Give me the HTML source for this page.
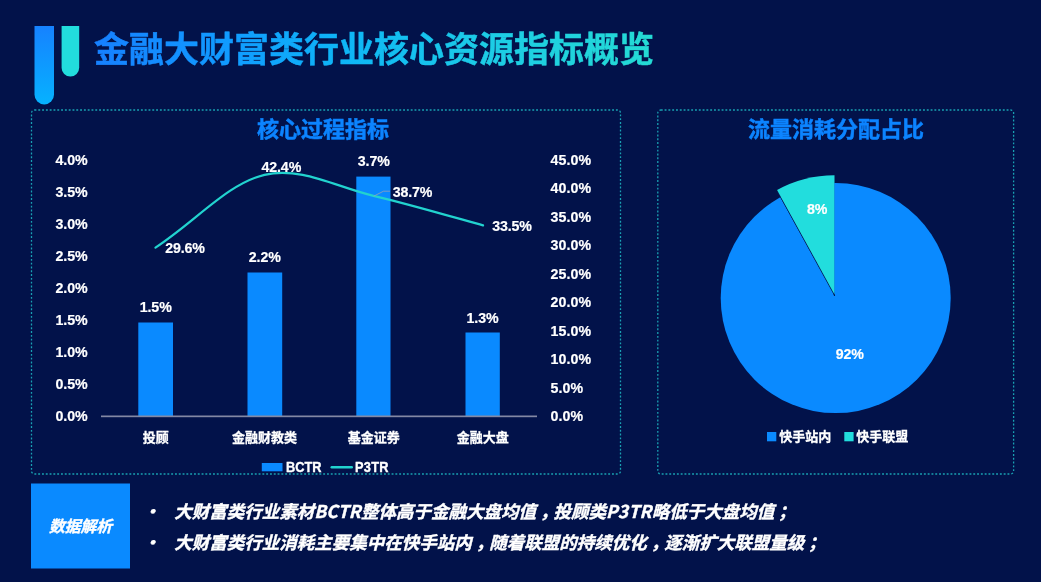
<!DOCTYPE html>
<html lang="zh-CN">
<head>
<meta charset="utf-8">
<title>金融大财富类行业核心资源指标概览</title>
<style>
html,body{margin:0;padding:0;}
body{width:1041px;height:582px;overflow:hidden;background:#02124A;position:relative;
  font-family:"Liberation Sans","Noto Sans CJK SC",sans-serif;color:#fff;}
.abs{position:absolute;white-space:nowrap;}
.cjk{font-family:"Noto Sans CJK SC","Liberation Sans",sans-serif;font-weight:bold;}
.num{font-family:"Liberation Sans",sans-serif;font-weight:bold;font-size:14.2px;line-height:16px;height:16px;letter-spacing:-0.1px;-webkit-text-stroke:0.2px #fff;}
.title{font-family:"Noto Sans CJK SC","Liberation Sans",sans-serif;font-weight:bold;font-size:35px;}
.ptitle{font-size:22px;line-height:30px;height:30px;color:#0C84FF;text-align:center;-webkit-text-stroke:0.5px #0C84FF;}
.cat{font-size:13px;line-height:18px;height:18px;text-align:center;width:100px;-webkit-text-stroke:0.3px #fff;}
.lg{font-size:13px;line-height:18px;-webkit-text-stroke:0.3px #fff;}
.ctr{text-align:center;width:60px;}
.bul{font-size:17.5px;line-height:24px;height:24px;font-style:italic;-webkit-text-stroke:0.4px #fff;}
.bul i{font-style:inherit;letter-spacing:0.2px;}
.bul b{font-weight:inherit;position:relative;left:4px;}
svg{position:absolute;left:0;top:0;}
</style>
</head>
<body>
<svg width="1041" height="582" viewBox="0 0 1041 582">
  <defs>
    <linearGradient id="gt" gradientUnits="userSpaceOnUse" x1="95" y1="0" x2="652" y2="0">
      <stop offset="0" stop-color="#1680FF"/>
      <stop offset="0.25" stop-color="#109CFF"/>
      <stop offset="0.45" stop-color="#0EB6F6"/>
      <stop offset="0.7" stop-color="#1CCCE6"/>
      <stop offset="1" stop-color="#24DAD4"/>
    </linearGradient>
    <linearGradient id="g1" x1="0" y1="0" x2="0" y2="1">
      <stop offset="0" stop-color="#1682FF"/>
      <stop offset="1" stop-color="#06B2FF"/>
    </linearGradient>
  </defs>
  <path d="M34.5,26 H54 V94.7 A9.75,9.75 0 0 1 34.5,94.7 Z" fill="url(#g1)"/>
  <path d="M61.6,26 H79.2 V67.7 A8.8,8.8 0 0 1 61.6,67.7 Z" fill="#22DDDD"/>
  <rect x="31.5" y="110" width="589" height="364" rx="3" fill="none" stroke="#1FC4CC" stroke-opacity="0.8" stroke-width="1.3" stroke-dasharray="1.9 1.9"/>
  <rect x="657.8" y="110" width="355.8" height="364" rx="3" fill="none" stroke="#1FC4CC" stroke-opacity="0.8" stroke-width="1.3" stroke-dasharray="1.9 1.9"/>
  <rect x="138.3" y="322.5" width="34.7" height="93.5" fill="#0A8AFF"/>
  <rect x="247.5" y="272.5" width="34.7" height="143.5" fill="#0A8AFF"/>
  <rect x="356.3" y="176.6" width="34.2" height="239.4" fill="#0A8AFF"/>
  <rect x="465.5" y="332.5" width="34.3" height="83.5" fill="#0A8AFF"/>
  <rect x="101" y="415.5" width="436" height="1.7" fill="#8388A4"/>
  <path d="M155.50,247.60 C196.4,220.7 227.4,183.7 264.50,174.80 C300.83,166.17 337.08,187.37 373.50,195.80 C409.92,204.23 464.75,220.47 483.00,225.40" fill="none" stroke="#22D3CF" stroke-width="2.25" stroke-linecap="round"/>
  <path d="M373.7,196.2 L383.5,191.2 H390" fill="none" stroke="#9AA0B4" stroke-width="0.8"/>
  <rect x="261.8" y="463" width="20.7" height="8.3" fill="#0A8AFF"/>
  <rect x="330.5" y="466" width="22.5" height="2.4" rx="1.2" fill="#22D3CF"/>
  <circle cx="835.7" cy="298.1" r="115" fill="#0A8AFF"/>
  <path d="M834.6,296 L833.3,293 L777.6,191.6 L834.2,293.2 Z" fill="#041A55" stroke="#041A55" stroke-width="0.9" stroke-linejoin="round"/>
  <path d="M834.50,294.40 L777.07,189.94 A119.20,119.20 0 0 1 834.50,175.20 Z" fill="#22DDDD"/>
  <rect x="834.4" y="183" width="0.6" height="110" fill="#0A6FD0" opacity="0.7"/>
  <rect x="767" y="432" width="9.3" height="9.3" fill="#0A8AFF"/>
  <rect x="844.3" y="432" width="9.3" height="9.3" fill="#22DDDD"/>
  <rect x="31" y="483.5" width="99" height="85" fill="#0A8AFF"/>
  <text class="title" x="94" y="61.5" fill="url(#gt)" stroke="url(#gt)" stroke-width="0.5">金融大财富类行业核心资源指标概览</text>
</svg>
<div class="abs cjk ptitle" style="left:223px;top:112px;width:200px;">核心过程指标</div>
<div class="abs cjk ptitle" style="left:736px;top:112px;width:200px;">流量消耗分配占比</div>

<div class="abs num" style="left:55.5px;top:152.0px;">4.0%</div>
<div class="abs num" style="left:55.5px;top:184.0px;">3.5%</div>
<div class="abs num" style="left:55.5px;top:216.0px;">3.0%</div>
<div class="abs num" style="left:55.5px;top:248.0px;">2.5%</div>
<div class="abs num" style="left:55.5px;top:280.0px;">2.0%</div>
<div class="abs num" style="left:55.5px;top:312.0px;">1.5%</div>
<div class="abs num" style="left:55.5px;top:344.0px;">1.0%</div>
<div class="abs num" style="left:55.5px;top:376.0px;">0.5%</div>
<div class="abs num" style="left:55.5px;top:408.0px;">0.0%</div>
<div class="abs num" style="left:550.5px;top:152.0px;letter-spacing:0.1px;">45.0%</div>
<div class="abs num" style="left:550.5px;top:180.4px;letter-spacing:0.1px;">40.0%</div>
<div class="abs num" style="left:550.5px;top:208.9px;letter-spacing:0.1px;">35.0%</div>
<div class="abs num" style="left:550.5px;top:237.3px;letter-spacing:0.1px;">30.0%</div>
<div class="abs num" style="left:550.5px;top:265.8px;letter-spacing:0.1px;">25.0%</div>
<div class="abs num" style="left:550.5px;top:294.2px;letter-spacing:0.1px;">20.0%</div>
<div class="abs num" style="left:550.5px;top:322.7px;letter-spacing:0.1px;">15.0%</div>
<div class="abs num" style="left:550.5px;top:351.1px;letter-spacing:0.1px;">10.0%</div>
<div class="abs num" style="left:550.5px;top:379.6px;letter-spacing:0.1px;">5.0%</div>
<div class="abs num" style="left:550.5px;top:408.0px;letter-spacing:0.1px;">0.0%</div>
<div class="abs num ctr" style="left:125.7px;top:299.0px;">1.5%</div>
<div class="abs num ctr" style="left:234.8px;top:249.0px;">2.2%</div>
<div class="abs num ctr" style="left:343.8px;top:153.0px;">3.7%</div>
<div class="abs num ctr" style="left:452.5px;top:310.0px;">1.3%</div>
<div class="abs num ctr" style="left:251.3px;top:159.0px;">42.4%</div>
<div class="abs num ctr" style="left:382.5px;top:183.9px;">38.7%</div>
<div class="abs num ctr" style="left:482.0px;top:218.3px;">33.5%</div>
<div class="abs num ctr" style="left:155.0px;top:240.0px;">29.6%</div>
<div class="abs cjk cat" style="left:105.8px;top:427.5px;">投顾</div>
<div class="abs cjk cat" style="left:214.5px;top:427.5px;">金融财教类</div>
<div class="abs cjk cat" style="left:323.7px;top:427.5px;">基金证券</div>
<div class="abs cjk cat" style="left:432.8px;top:427.5px;">金融大盘</div>
<div class="abs num" style="left:285.7px;top:459px;font-size:14.2px;letter-spacing:0;transform:scaleX(0.9);transform-origin:0 50%;-webkit-text-stroke:0.35px #fff;">BCTR</div>
<div class="abs num" style="left:355px;top:459px;font-size:14.2px;letter-spacing:0.3px;transform:scaleX(0.9);transform-origin:0 50%;-webkit-text-stroke:0.35px #fff;">P3TR</div>
<div class="abs num ctr" style="left:787.1px;top:201.3px;">8%</div>
<div class="abs num ctr" style="left:819.8px;top:346.2px;">92%</div>
<div class="abs cjk lg" style="left:779.3px;top:427px;">快手站内</div>
<div class="abs cjk lg" style="left:856.2px;top:427px;">快手联盟</div>
<div class="abs cjk" style="left:31px;top:514.5px;width:99px;text-align:center;font-size:15.8px;line-height:22px;font-style:italic;-webkit-text-stroke:0.4px #fff;">数据解析</div>
<div class="abs cjk bul" style="left:142.7px;top:499px;">•</div>
<div class="abs cjk bul" style="left:142.7px;top:530px;">•</div>
<div class="abs cjk bul" style="left:174.2px;top:498.9px;">大财富类行业素材<i>BCTR</i>整体高于金融大盘均值<b>，</b>投顾类<i>P3TR</i>略低于大盘均值<b>；</b></div>
<div class="abs cjk bul" style="left:174.2px;top:529.9px;">大财富类行业消耗主要集中在快手站内<b>，</b>随着联盟的持续优化<b>，</b>逐渐扩大联盟量级<b>；</b></div>
</body>
</html>
